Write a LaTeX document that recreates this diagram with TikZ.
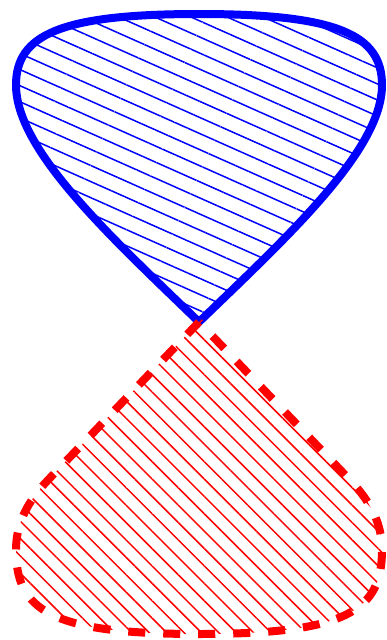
\documentclass[tikz,border=0pt]{standalone}
\usetikzlibrary{patterns.meta}
\begin{document}
\begin{tikzpicture}[x=1pt,y=-1pt,
  upperdrop/.style={draw=blue,line width=8pt,
    pattern={Lines[angle=-24,distance=14.7pt,line width=1.5pt]},pattern color=blue},
  lowerdrop/.style={draw=red,line width=8pt,dash pattern=on 17pt off 18pt,
    pattern={Lines[angle=-45,distance=12.3pt,line width=1.5pt]},pattern color=red}]
\useasboundingbox (0,0) rectangle (387,640);
\coordinate (apex) at (199,322);
% upper blue drop
\draw[upperdrop] (apex)
  .. controls (110,236) and (16,150) .. (16,85)
  .. controls (16,35) and (60,14) .. (199,14)
  .. controls (338,14) and (382,35) .. (382,85)
  .. controls (382,150) and (288,236) .. (apex) -- cycle;
% lower red drop
\draw[lowerdrop] (apex) -- (48,480)
  .. controls (28,501) and (16,523) .. (16,550)
  .. controls (16,610) and (50,634) .. (199,634)
  .. controls (348,634) and (382,610) .. (382,550)
  .. controls (382,523) and (370,501) .. (350,480)
  -- (apex) -- cycle;
\end{tikzpicture}
\end{document}
